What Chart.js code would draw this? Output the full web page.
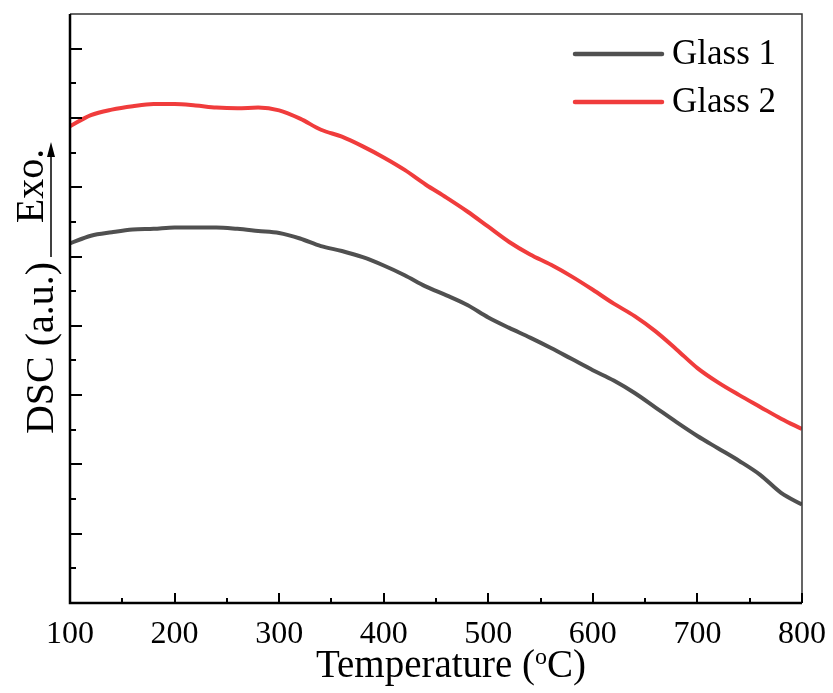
<!DOCTYPE html>
<html>
<head>
<meta charset="utf-8">
<script src="https://cdn.jsdelivr.net/npm/chart.js@4.4.1/dist/chart.umd.min.js"></script>
<style>
  html, body { margin: 0; padding: 0; background: #fff; }
  #wrap { width: 833px; height: 693px; position: relative; }
</style>
</head>
<body>
<div id="wrap"><canvas id="dscChart"></canvas></div>
<script>
// temperature grid (°C) and DSC signal (a.u.)
const temperature = [100, 120, 140, 160, 180, 200, 220, 240, 260, 280, 300, 320, 340, 360, 380, 400, 420, 440,
                     460, 480, 500, 520, 540, 560, 580, 600, 620, 640, 660, 680, 700, 720, 740, 760, 780, 800];
const glass1 = [5.19, 5.30, 5.35, 5.39, 5.40, 5.42, 5.42, 5.42, 5.40, 5.37, 5.34, 5.26, 5.15, 5.08, 4.99, 4.87, 4.73, 4.57,
                4.44, 4.30, 4.12, 3.97, 3.83, 3.68, 3.52, 3.36, 3.21, 3.03, 2.82, 2.61, 2.41, 2.23, 2.05, 1.85, 1.59, 1.42];
const glass2 = [6.88, 7.04, 7.12, 7.17, 7.20, 7.20, 7.18, 7.15, 7.14, 7.15, 7.11, 6.99, 6.83, 6.73, 6.59, 6.43, 6.25, 6.04,
                5.85, 5.65, 5.43, 5.21, 5.03, 4.88, 4.71, 4.52, 4.32, 4.14, 3.92, 3.66, 3.39, 3.18, 3.00, 2.83, 2.66, 2.51];
const seriesNames = ['Glass 1', 'Glass 2'];
const seriesColors = ['#505050', '#f03c3c'];
const xTitleParts = ['Temperature (', 'o', 'C)'];
const yTitle = 'DSC (a.u.)';
const exoLabel = 'Exo.';

const FONT = '"Liberation Serif", "Times New Roman", serif';

function toPoints(ys) {
    return temperature.map((t, i) => ({ x: t, y: ys[i] }));
}

// frame + inward ticks (the reference has ticks pointing into the plot)
const framePlugin = {
    id: 'frame',
    afterDatasetsDraw(chart) {
        const { ctx, chartArea: a, scales: { x, y } } = chart;
        ctx.save();
        ctx.strokeStyle = '#333';
        ctx.lineWidth = 1.5;
        ctx.beginPath();
        ctx.moveTo(a.left, a.top);
        ctx.lineTo(a.right, a.top);
        ctx.lineTo(a.right, a.bottom);
        ctx.stroke();

        ctx.strokeStyle = '#000';
        ctx.lineWidth = 2.5;
        ctx.beginPath();
        ctx.moveTo(a.left, a.top);
        ctx.lineTo(a.left, a.bottom);
        ctx.lineTo(a.right, a.bottom);
        ctx.stroke();

        ctx.lineWidth = 2;
        ctx.beginPath();
        for (let v = x.min; v <= x.max; v += 50) {
            const px = Math.round(x.getPixelForValue(v));
            const len = v % 100 === 0 ? 10 : 5;
            ctx.moveTo(px, a.bottom);
            ctx.lineTo(px, a.bottom - len);
        }
        for (let v = 0.5; v < y.max; v += 0.5) {
            const py = Math.round(y.getPixelForValue(v));
            const len = Number.isInteger(v) ? 12 : 6;
            ctx.moveTo(a.left, py);
            ctx.lineTo(a.left + len, py);
        }
        ctx.stroke();
        ctx.restore();
    }
};

// axis titles, Exo. arrow and legend
const labelsPlugin = {
    id: 'labels',
    afterDraw(chart) {
        const { ctx } = chart;
        ctx.save();
        ctx.fillStyle = '#000';
        ctx.textBaseline = 'alphabetic';

        // x title with superscript o
        const big = '39px ' + FONT, small = '24px ' + FONT;
        ctx.font = big;
        const w0 = ctx.measureText(xTitleParts[0]).width;
        const w2 = ctx.measureText(xTitleParts[2]).width;
        ctx.font = small;
        const w1 = ctx.measureText(xTitleParts[1]).width;
        let tx = 451 - (w0 + w1 + w2) / 2;
        ctx.textAlign = 'left';
        ctx.font = big;
        ctx.fillText(xTitleParts[0], tx, 677);
        tx += w0;
        ctx.font = small;
        ctx.fillText(xTitleParts[1], tx, 664);
        tx += w1;
        ctx.font = big;
        ctx.fillText(xTitleParts[2], tx, 677);

        // y title
        ctx.textAlign = 'center';
        ctx.font = '40px ' + FONT;
        ctx.save();
        ctx.translate(53, 348);
        ctx.rotate(-Math.PI / 2);
        ctx.fillText(yTitle, 0, 0);
        ctx.restore();
        ctx.save();
        ctx.translate(43, 186);
        ctx.rotate(-Math.PI / 2);
        ctx.fillText(exoLabel, 0, 0);
        ctx.restore();

        // arrow
        ctx.strokeStyle = '#000';
        ctx.lineWidth = 1.5;
        ctx.beginPath();
        ctx.moveTo(51, 257);
        ctx.lineTo(51, 152);
        ctx.stroke();
        ctx.beginPath();
        ctx.moveTo(51, 142);
        ctx.lineTo(55, 157);
        ctx.lineTo(47, 157);
        ctx.closePath();
        ctx.fill();

        // legend
        ctx.textAlign = 'left';
        ctx.textBaseline = 'middle';
        ctx.font = '35px ' + FONT;
        chart.data.datasets.forEach((ds, i) => {
            const ly = 54 + 48 * i;
            ctx.strokeStyle = ds.borderColor;
            ctx.lineWidth = 4.5;
            ctx.lineCap = 'round';
            ctx.beginPath();
            ctx.moveTo(575, ly);
            ctx.lineTo(662, ly);
            ctx.stroke();
            ctx.fillStyle = '#000';
            ctx.fillText(ds.label, 672, ly + 1);
        });
        ctx.restore();
    }
};

new Chart(document.getElementById('dscChart'), {
    type: 'line',
    data: {
        datasets: [
            { label: seriesNames[0], data: toPoints(glass1), borderColor: seriesColors[0], borderWidth: 4, pointRadius: 0, tension: 0.3, cubicInterpolationMode: 'monotone', fill: false },
            { label: seriesNames[1], data: toPoints(glass2), borderColor: seriesColors[1], borderWidth: 4, pointRadius: 0, tension: 0.3, cubicInterpolationMode: 'monotone', fill: false }
        ]
    },
    options: {
        responsive: true,
        maintainAspectRatio: false,
        animation: false,
        layout: { padding: { left: 0, top: 14, right: 31, bottom: 0 } },
        plugins: {
            legend: { display: false },
            tooltip: { enabled: false }
        },
        scales: {
            x: {
                type: 'linear',
                position: 'bottom',
                min: 100,
                max: 800,
                afterFit(s) { s.height = 90; s.paddingLeft = 0; s.paddingRight = 0; },
                grid: { display: false, drawTicks: false },
                border: { display: false },
                ticks: {
                    stepSize: 100,
                    color: '#000',
                    padding: 12,
                    maxRotation: 0,
                    font: { family: FONT, size: 32 }
                }
            },
            y: {
                type: 'linear',
                min: 0,
                max: 8.5,
                afterFit(s) { s.width = 70; s.paddingTop = 0; s.paddingBottom = 0; },
                grid: { display: false, drawTicks: false },
                border: { display: false },
                ticks: { display: false }
            }
        }
    },
    plugins: [framePlugin, labelsPlugin]
});
</script>
</body>
</html>
